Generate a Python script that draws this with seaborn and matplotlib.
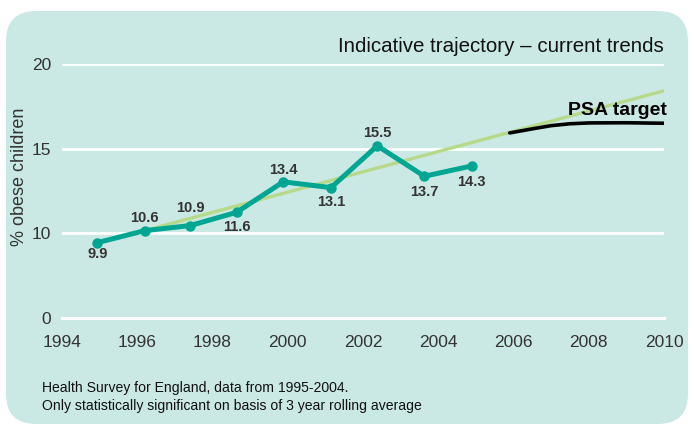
import numpy as np
import pandas as pd
import seaborn as sns
import matplotlib.pyplot as plt
from matplotlib.patches import FancyBboxPatch

# survey points (as drawn) and their printed labels
years = [1994.94, 1996.2, 1997.41, 1998.64, 1999.88, 2001.15, 2002.38, 2003.63, 2004.89]
obese_pct = [8.9, 10.16, 10.46, 11.24, 13.04, 12.70, 15.17, 13.37, 13.98]
value_labels = ['9.9', '10.6', '10.9', '11.6', '13.4', '13.1', '15.5', '13.7', '14.3']

# indicative trajectory (current trends)
trend_years = [1996.2, 2010]
trend_pct = [10.16, 18.42]

# PSA target curve
psa_years = [2005.9, 2006.5, 2007.0, 2007.5, 2008.0, 2009.0, 2010.0]
psa_pct = [15.93, 16.17, 16.36, 16.47, 16.52, 16.53, 16.50]

x_ticks = list(range(1994, 2011, 2))
y_ticks = [0, 10, 15, 20]

BG = '#cbe9e4'
TEAL = '#00a692'
LIGHT_GREEN = '#b6d98a'
TEXT = '#333333'

sns.set_style('white')
plt.rcParams['font.family'] = ['Liberation Sans', 'DejaVu Sans']

W, H = 695, 426
fig = plt.figure(figsize=(W / 100, H / 100), dpi=100)
fig.patch.set_facecolor('white')

# rounded panel behind everything
R = 30
panel = FancyBboxPatch((6 / W, 1 - 424 / H), 682 / W, 413 / H,
                       boxstyle=f'round,pad=0,rounding_size={R / W}',
                       mutation_aspect=W / H, transform=fig.transFigure,
                       facecolor=BG, edgecolor='none', zorder=-5)
fig.patches.append(panel)

ax = fig.add_axes([62 / W, 1 - 318 / H, (664 - 62) / W, (318 - 64) / H])
ax.set_facecolor('none')
ax.set_zorder(1)


# the axis is compressed between 0 and 10
def fwd(y):
    y = np.asarray(y, dtype=float)
    return np.where(y < 10, y / 2, y - 5)


def inv(y):
    y = np.asarray(y, dtype=float)
    return np.where(y < 5, y * 2, y + 5)


ax.set_yscale('function', functions=(fwd, inv))

df = pd.DataFrame({'Year': years, 'Pct': obese_pct})
trend = pd.DataFrame({'Year': trend_years, 'Pct': trend_pct})
psa = pd.DataFrame({'Year': psa_years, 'Pct': psa_pct})

sns.lineplot(data=trend, x='Year', y='Pct', ax=ax, color=LIGHT_GREEN, linewidth=2.4, zorder=3)
sns.lineplot(data=psa, x='Year', y='Pct', ax=ax, color='black', linewidth=2.6, zorder=3)
sns.lineplot(data=df, x='Year', y='Pct', ax=ax, color=TEAL, linewidth=3.6,
             marker='o', markersize=7.5, markeredgewidth=0, zorder=4)

# label offsets in pixels (above positive, below negative)
offsets = [-11, 13, 18, -15, 12, -14, 13, -16, -16]
for xv, yv, lab, off in zip(years, obese_pct, value_labels, offsets):
    ax.annotate(lab, (xv, yv), xytext=(0, off * 0.72), textcoords='offset points',
                ha='center', va='center', fontsize=10.5, fontweight='bold', color=TEXT, zorder=5)

ax.set_xlim(1994, 2010)
ax.set_ylim(0, 20)
ax.set_xticks(x_ticks)
ax.set_yticks(y_ticks)
ax.set_xlabel('')
ax.set_ylabel('')
for y in [10, 15, 20]:
    ax.axhline(y, color='white', linewidth=2, zorder=1)

for side in ['top', 'right', 'left']:
    ax.spines[side].set_visible(False)
ax.spines['bottom'].set_color('white')
ax.spines['bottom'].set_linewidth(2.2)
ax.tick_params(axis='x', colors='white', direction='out', length=6, width=2, pad=6,
               labelsize=12.5, labelcolor=TEXT)
ax.tick_params(axis='y', length=0, pad=8, labelsize=12.5, labelcolor=TEXT)
ax.yaxis.set_minor_locator(plt.NullLocator())
ax.set_yticklabels([str(t) for t in y_ticks])

fig.text(20 / W, 1 - 177 / H, '% obese children', rotation=90, ha='center', va='center',
         fontsize=13, color=TEXT)
fig.text(664 / W, 1 - 52 / H, 'Indicative trajectory \u2013 current trends', ha='right',
         va='baseline', fontsize=14.8, color='#111111')
fig.text(667 / W, 1 - 115 / H, 'PSA target', ha='right', va='baseline',
         fontsize=14, fontweight='bold', color='black')
fig.text(42 / W, 1 - 392 / H, 'Health Survey for England, data from 1995-2004.',
         ha='left', va='baseline', fontsize=10.1, color='#111111')
fig.text(42 / W, 1 - 410 / H, 'Only statistically significant on basis of 3 year rolling average',
         ha='left', va='baseline', fontsize=10.1, color='#111111')

fig.savefig('out.png', dpi=100, facecolor='white')
